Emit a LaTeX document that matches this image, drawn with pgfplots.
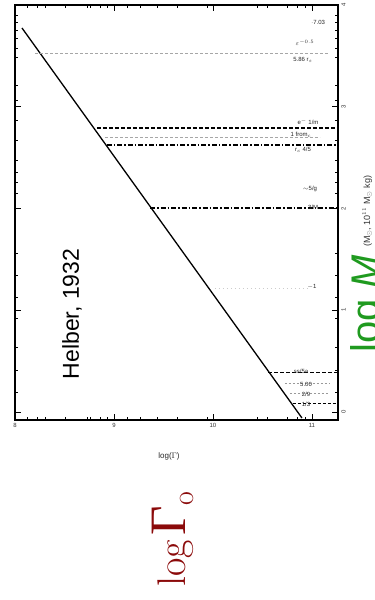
\documentclass[border=0pt]{standalone}
\usepackage{fontspec}
\usepackage{pgfplots}
\pgfplotsset{compat=1.18}
\newfontfamily\arial{Liberation Sans}
\newfontfamily\tnr{Liberation Serif}
\definecolor{darkred}{HTML}{8B0A0A}
\definecolor{lgreen}{HTML}{1F9A1F}
\begin{document}
\begin{tikzpicture}
\path[use as bounding box] (0pt,0pt) rectangle (375pt,-600pt);
\begin{axis}[
  at={(15pt,-420pt)}, anchor=south west,
  scale only axis, width=323pt, height=415pt,
  xmin=0, xmax=3.263, ymin=-0.0786, ymax=4.0,
  axis line style={line width=1.3pt},
  tick style={black, line width=0.8pt},
  major tick length=6pt,
  xtick={0,1,2,3}, xticklabels={8,9,10,11},
  extra x ticks={0.121,0.222,0.303,0.505,0.727,0.758,0.859,0.929,1.131,1.263,1.434,1.636,1.939,2.444,2.545,2.747,2.848,2.929},
  extra x tick labels={},
  extra x tick style={major tick length=3pt},
  ytick={0,1,2,3,4}, yticklabels={0,1,2,3,4},
  yticklabel pos=right,
  extra y ticks={3.902,3.833,3.754,3.676,3.577,3.489,3.214,3.066,2.870,2.673,2.477,2.359,2.260,2.152,1.563,1.346,1.130,0.924,0.639,0.413,0.197},
  extra y tick labels={},
  extra y tick style={major tick length=3pt},
  ticklabel style={font=\arial\fontsize{6}{6}\selectfont, text=black!80},
  yticklabel style={rotate=90, anchor=north},
  clip=true,
]
% main solid line
\addplot[black, line width=1.3pt] coordinates {(0.0707,3.774) (2.899,-0.059)};
% horizontal dashed lines
\addplot[black!35, line width=0.9pt, dash pattern=on 3pt off 2pt] coordinates {(0.202,3.528) (3.182,3.528)};
\addplot[black, line width=1.1pt, dash pattern=on 4pt off 2pt] coordinates {(0.828,2.791) (3.263,2.791)};
\addplot[black!35, line width=0.8pt, dash pattern=on 3pt off 2pt] coordinates {(0.909,2.703) (3.081,2.703)};
\addplot[black, line width=1.3pt, dash pattern=on 5pt off 2pt on 1.5pt off 2pt] coordinates {(0.929,2.624) (3.263,2.624)};
\addplot[black, line width=1.1pt, dash pattern=on 5pt off 2pt on 1.5pt off 2pt] coordinates {(1.364,2.005) (3.263,2.005)};
\addplot[black!20, line width=0.8pt, dash pattern=on 1pt off 3pt] coordinates {(2.02,1.219) (2.98,1.219)};
\addplot[black, line width=1.0pt, dash pattern=on 4pt off 2pt] coordinates {(2.556,0.393) (3.263,0.393)};
\addplot[black!40, line width=0.7pt, dash pattern=on 2pt off 2pt] coordinates {(2.727,0.285) (3.182,0.285)};
\addplot[black!40, line width=0.7pt, dash pattern=on 2pt off 2pt] coordinates {(2.778,0.187) (3.182,0.187)};
\addplot[black, line width=0.9pt, dash pattern=on 3pt off 2pt] coordinates {(2.808,0.088) (3.263,0.088)};
\end{axis}
% annotations
\begin{scope}[every node/.style={font=\arial\fontsize{6}{6}\selectfont, inner sep=0pt, text=black!85}]
\node at (318pt,-22pt) {$\cdot$7.03};
\node at (305pt,-43pt) {$\varepsilon^{-0.5}$};
\node at (303pt,-60pt) {5.86 r$_s$};
\node at (308pt,-122pt) {e$^{-}$ 1/m};
\node at (301pt,-135pt) {1 from$_{\rm c}$};
\node at (303pt,-150pt) {r$_c$ 4/5};
\node at (310pt,-189pt) {$\sim$5/g};
\node at (313pt,-207pt) {3/M};
\node at (312pt,-287pt) {$-$1};
\node at (301pt,-371pt) {ss/5a};
\node at (306pt,-384pt) {5.00};
\node at (306pt,-394pt) {2/9};
\node at (306pt,-404pt) {1/3};
\node at (169pt,-456pt) {\fontsize{8}{8}\selectfont log($\Gamma$)};
\end{scope}
% Helber
\node[rotate=90, font=\arial\fontsize{23}{23}\selectfont, inner sep=0pt] at (72pt,-314pt) {Helber, 1932};
% log M
\node[rotate=90, anchor=base west, inner sep=0pt, text=lgreen, font=\arial\fontsize{40}{40}\selectfont] at (379pt,-353pt) {log {\itshape M}};
\node[rotate=90, anchor=base west, inner sep=0pt, text=black!80, font=\arial\fontsize{9}{9}\selectfont] at (370pt,-247pt) {(M$_\odot$, 10$^{11}$ M$_\odot$ kg)};
% log Gamma_o
\node[rotate=90, anchor=base west, inner sep=0pt, text=darkred] at (185pt,-587pt) {\fontsize{40}{48}\selectfont log\hspace{5pt}{\tnr\fontsize{51}{60}\selectfont Γ}\raisebox{-8pt}{\fontsize{30}{36}\selectfont o}};
\end{tikzpicture}
\end{document}
